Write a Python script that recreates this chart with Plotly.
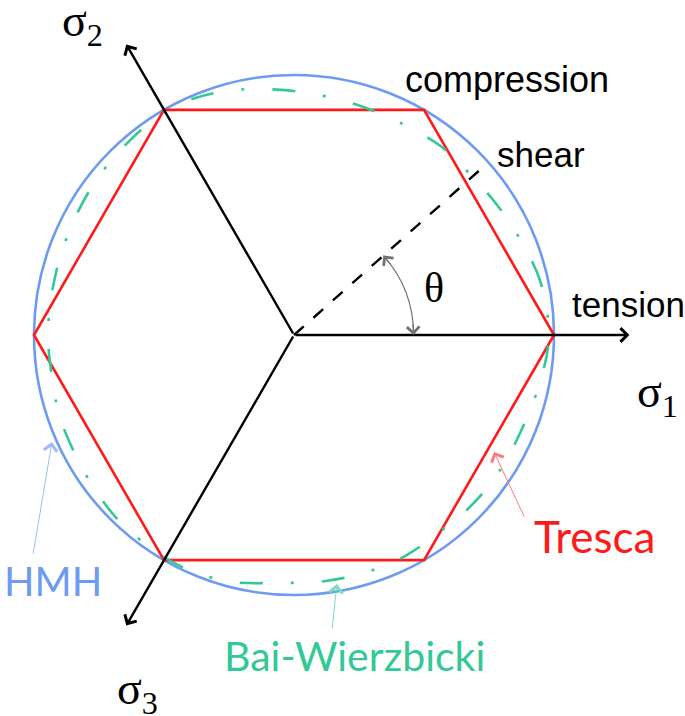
import numpy as np
import plotly.graph_objects as go

# ---------------- data ----------------
R_HMH = 1.0                                   # von Mises (HMH) circle radius
tresca_angles = [0, 60, 120, 180, 240, 300, 360]   # Tresca hexagon vertices (deg)
tresca_r = [1.0, 1.0, 1.0, 1.0, 1.0, 1.0, 1.0]

bw_angles = [0, 12, 23, 33, 43, 52, 64, 74, 84, 93, 103, 113, 122, 131, 141, 150,
             160, 170, 180, 190, 199, 209, 219, 228, 240, 247, 256, 266, 277, 287,
             297, 307, 316, 326, 337, 350]
bw_r = [0.98, 0.97, 0.944, 0.927, 0.917, 0.92, 0.913, 0.917, 0.928, 0.944, 0.968,
        0.988, 0.99, 0.978, 0.967, 0.957, 0.949, 0.945, 0.946, 0.945, 0.954, 0.959,
        0.971, 0.983, 0.99, 0.989, 0.979, 0.956, 0.954, 0.954, 0.951, 0.942, 0.946,
        0.948, 0.948, 0.965]

axis_angles = [0, 120, 240]          # sigma1, sigma2, sigma3 directions (deg)
axis_length = 1.29
axis_names = ["σ<sub>1</sub>", "σ<sub>2</sub>", "σ<sub>3</sub>"]
shear_angle = 41.6
shear_length = 0.98
theta_radius = 0.46

BLUE = "#6E9BF2"
RED = "#FF1A1A"
TEAL = "#33C895"

# ---------------- helpers ----------------
def polar(r, a_deg):
    a = np.deg2rad(np.asarray(a_deg, dtype=float))
    return np.asarray(r) * np.cos(a), np.asarray(r) * np.sin(a)

fig = go.Figure()

# Tresca hexagon
tx, ty = polar(tresca_r, tresca_angles)
fig.add_trace(go.Scatter(x=tx, y=ty, mode="lines", line=dict(color=RED, width=2.6),
                         hoverinfo="skip", showlegend=False))

# Bai-Wierzbicki
bx, by = polar(bw_r + [bw_r[0]], bw_angles + [360])
fig.add_trace(go.Scatter(x=bx, y=by, mode="lines",
                         line=dict(color=TEAL, width=2.6, shape="spline", smoothing=1.0,
                                   dash="23px,28px,3px,28px"),
                         hoverinfo="skip", showlegend=False))

# HMH circle
fig.add_shape(type="circle", xref="x", yref="y", x0=-R_HMH, y0=-R_HMH, x1=R_HMH, y1=R_HMH,
              line=dict(color=BLUE, width=2.6), layer="below")

# shear dashed line
sx, sy = polar(shear_length, shear_angle)
fig.add_trace(go.Scatter(x=[0, float(sx)], y=[0, float(sy)], mode="lines",
                         line=dict(color="black", width=2.4, dash="13px,13px"),
                         hoverinfo="skip", showlegend=False))

# principal stress axes
for ang in axis_angles:
    ex, ey = polar(axis_length, ang)
    fig.add_annotation(x=float(ex), y=float(ey), ax=0, ay=0, xref="x", yref="y",
                       axref="x", ayref="y", text="", showarrow=True,
                       arrowhead=4, arrowsize=1.1, arrowwidth=2.4, arrowcolor="black")

# theta arc (quadratic bezier approximating a circular arc)
p0x, p0y = polar(theta_radius, shear_angle)
p2x, p2y = polar(theta_radius, 0)
cx, cy = polar(theta_radius / np.cos(np.deg2rad(shear_angle / 2)), shear_angle / 2)
fig.add_shape(type="path", xref="x", yref="y",
              path=f"M {p0x:.4f},{p0y:.4f} Q {cx:.4f},{cy:.4f} {p2x:.4f},{p2y:.4f}",
              line=dict(color="#707070", width=1.2))
# arrow heads on the arc
for a_tip, a_back in [(shear_angle, shear_angle - 6), (0, 6)]:
    hx, hy = polar(theta_radius, a_tip)
    kx, ky = polar(theta_radius, a_back)
    fig.add_annotation(x=float(hx), y=float(hy), ax=float(kx), ay=float(ky), xref="x", yref="y",
                       axref="x", ayref="y", text="", showarrow=True,
                       arrowhead=4, arrowsize=2.2, arrowwidth=1.1, arrowcolor="#707070")

# label pointer arrows
pointers = [((-1.004, -0.846), (-0.931, -0.412), "#9DBBF7"),
            ((0.888, -0.704), (0.769, -0.450), "#FF7A7A"),
            ((0.146, -1.135), (0.165, -0.958), "#7FDDBB")]
for (t, h, c) in pointers:
    fig.add_annotation(x=h[0], y=h[1], ax=t[0], ay=t[1], xref="x", yref="y",
                       axref="x", ayref="y", text="", showarrow=True,
                       arrowhead=4, arrowsize=2.6, arrowwidth=1.0, arrowcolor=c)

SANS = "Liberation Sans, Arial, sans-serif"
SERIF = "Liberation Serif, Times New Roman, serif"
HUM = "Lato, Open Sans, sans-serif"

def label(x, y, text, font, size, color="black", xanchor="left"):
    fig.add_annotation(x=x, y=y, xref="x", yref="y", text=text, showarrow=False,
                       xanchor=xanchor, yanchor="middle",
                       font=dict(family=font, size=size, color=color))

label(0.419, 0.981, "compression", SANS, 36)
label(0.773, 0.696, "shear", SANS, 35)
label(1.062, 0.119, "tension", SANS, 35)
label(0.538, 0.181, "θ", SERIF, 42, xanchor="center")

label(1.312, -0.23, axis_names[0], SERIF, 46)
label(-0.900, 1.195, axis_names[1], SERIF, 46)
label(-0.688, -1.372, axis_names[2], SERIF, 46)

label(-1.123, -0.946, "HMH", HUM, 40, BLUE)
label(0.915, -0.773, "Tresca", HUM, 44, RED)
label(-0.277, -1.232, "Bai-Wierzbicki", HUM, 41, TEAL)

W, H = 685, 716
CX, CY, S = 294, 335, 260
fig.update_layout(
    width=W, height=H, margin=dict(l=0, r=0, t=0, b=0),
    paper_bgcolor="white", plot_bgcolor="white",
    xaxis=dict(range=[-CX / S, (W - CX) / S], visible=False, fixedrange=True),
    yaxis=dict(range=[-(H - CY) / S, CY / S], visible=False, fixedrange=True),
    showlegend=False,
)

fig.write_html("out.html", config={"displayModeBar": False, "staticPlot": True},
               post_script="document.body.style.margin='0';")
